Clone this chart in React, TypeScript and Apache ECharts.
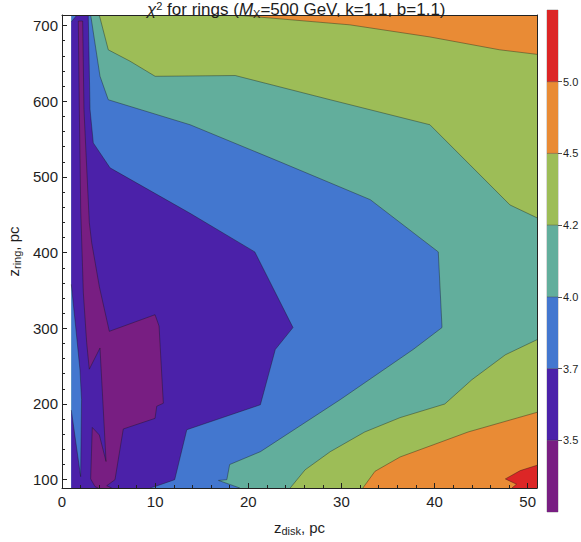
import React, { useEffect, useRef } from 'react';
import * as echarts from 'echarts';

const FONT = '"Liberation Sans", Arial, Helvetica, sans-serif';
const TEXT = '#1e1e1e';

// contour levels (colour bar tick labels) and the band colours, bottom to top
const levelLabels = ['3.5', '3.7', '4.0', '4.2', '4.5', '5.0'];
const bandColors = ['#781E82', '#4B21A9', '#4377CF', '#62AE9C', '#9DBD57', '#E98B35', '#DC2626'];

// data extent of the sampled grid
const dataX = [1, 51];
const dataY = [89, 714];

// region polygons [z_disk, z_ring]
const tealBase = [[1, 89], [51, 89], [51, 714], [1, 714]];
const greenTop = [[4.0, 714], [4.97, 668], [7.3, 653], [10.0, 633], [18.6, 634], [28.8, 602], [39.5, 569], [43.8, 516], [48.1, 463], [51, 446], [51, 714]];
const orangeTop = [[18.6, 714], [30.9, 701], [39.5, 685], [47.0, 668], [51, 662], [51, 714]];
const greenBottom = [[24.5, 89], [26.1, 113], [28.8, 137], [32.5, 163], [36.3, 182], [41.1, 200], [44.0, 232], [47.6, 265], [51, 285], [51, 89]];
const orangeBottom = [[32.3, 89], [33.6, 111], [36.3, 130], [39.85, 146], [43.6, 163], [51, 189], [51, 89]];
const redCorner = [[51, 119], [49.2, 112], [47.6, 101], [48.8, 94], [48.3, 89], [51, 89]];
const blueRegion = [[3.08, 714], [4.08, 633], [4.97, 602], [13.75, 569], [23.4, 520], [33.1, 470], [40.4, 401], [40.8, 301], [37.7, 272], [29.9, 206], [21.3, 137], [18.0, 120], [17.7, 100], [16.8, 99], [19.1, 89], [1, 89], [1, 714]];
const indigoRegion = [[1.61, 714], [2.82, 714], [3.01, 589], [3.36, 545], [5.16, 512], [13.75, 452], [20.7, 401], [24.8, 301], [22.9, 272], [21.3, 199], [13.4, 166], [12.1, 100], [10.0, 91], [9.45, 89], [1, 89], [1, 192], [2.0, 104], [2.1, 206], [1.93, 245], [1.5, 298], [1, 358], [1, 705]];
const purpleRegion = [[1.75, 706], [2.22, 706], [2.36, 589], [2.93, 440], [3.19, 413], [4.01, 355], [5.08, 296], [9.99, 318], [10.42, 303], [10.88, 201], [10.17, 197], [9.99, 181], [6.58, 167], [5.69, 100], [4.8, 92], [5.34, 89], [3.87, 89], [3.54, 91], [3.08, 101], [3.25, 169], [4.01, 159], [4.73, 124], [4.08, 274], [2.93, 246], [2.65, 281], [2.29, 347], [2.01, 457], [1.86, 589]];

const onSameEdge = (p: number[], q: number[]) =>
  (p[0] <= dataX[0] && q[0] <= dataX[0]) ||
  (p[0] >= dataX[1] && q[0] >= dataX[1]) ||
  (p[1] <= dataY[0] && q[1] <= dataY[0]) ||
  (p[1] >= dataY[1] && q[1] >= dataY[1]);

function regionSeries(name: string, pts: number[][], color: string, withLines = true) {
  return {
    type: 'custom',
    name,
    xAxisIndex: 0,
    yAxisIndex: 0,
    clip: true,
    silent: true,
    z: 1,
    data: [0],
    renderItem: (_params: any, api: any) => {
      const coords = pts.map((p) => api.coord(p));
      const children: any[] = [
        { type: 'polygon', shape: { points: coords }, style: { fill: color } },
      ];
      if (withLines) {
        const runs: number[][][] = [];
        let cur: number[][] = [];
        for (let i = 0; i < pts.length; i++) {
          const j = (i + 1) % pts.length;
          if (onSameEdge(pts[i], pts[j])) {
            if (cur.length > 1) runs.push(cur);
            cur = [];
          } else {
            if (cur.length === 0) cur.push(coords[i]);
            cur.push(coords[j]);
          }
        }
        if (cur.length > 1) runs.push(cur);
        runs.forEach((r) =>
          children.push({
            type: 'polyline',
            shape: { points: r },
            style: { fill: null, stroke: 'rgba(20,20,20,0.55)', lineWidth: 0.7 },
          })
        );
      }
      return { type: 'group', children };
    },
  };
}

const barSeries = bandColors.map((c, i) => ({
  type: 'bar',
  name: 'band' + i,
  xAxisIndex: 1,
  yAxisIndex: 1,
  stack: 'cb',
  barWidth: '100%',
  silent: true,
  data: [1],
  itemStyle: { color: c },
}));

const separatorSeries = {
  type: 'custom',
  name: 'sep',
  xAxisIndex: 1,
  yAxisIndex: 1,
  silent: true,
  z: 3,
  data: levelLabels.map((_, i) => [0, i + 1]),
  renderItem: (params: any, api: any) => {
    const cs = params.coordSys;
    const y = api.coord([0, api.value(1)])[1];
    return {
      type: 'line',
      shape: { x1: cs.x, y1: y, x2: cs.x + cs.width, y2: y },
      style: { stroke: 'rgba(30,30,30,0.45)', lineWidth: 0.8 },
    };
  },
};

const richAxis = {
  n: { fontSize: 15, fontFamily: FONT, color: TEXT, lineHeight: 18 },
  sub: { fontSize: 11, fontFamily: FONT, color: TEXT, lineHeight: 11, verticalAlign: 'bottom' },
};

const tickStyle = { color: '#222', width: 1 };

const option: any = {
  animation: false,
  backgroundColor: '#ffffff',
  title: {
    text: '{it|χ}{sup|2}{n| for rings (}{it|M}{sub|X}{n|=500 GeV, k=1.1, b=1.1)}',
    left: 147,
    top: 0,
    padding: 0,
    textStyle: {
      fontSize: 17,
      fontWeight: 'normal',
      fontFamily: FONT,
      color: TEXT,
      rich: {
        n: { fontSize: 17, fontFamily: FONT, color: TEXT, lineHeight: 19 },
        it: { fontSize: 17, fontFamily: FONT, color: TEXT, fontStyle: 'italic', lineHeight: 19 },
        sup: { fontSize: 11, fontFamily: FONT, color: TEXT, lineHeight: 11, verticalAlign: 'top' },
        sub: { fontSize: 11, fontFamily: FONT, color: TEXT, lineHeight: 11, verticalAlign: 'bottom' },
      },
    },
  },
  grid: [
    { left: 62, right: 44, top: 15, bottom: 54, containLabel: false, outerBoundsMode: 'none' },
    { left: 547, top: 10, width: 11, height: 502, show: true, borderColor: '#b4b4b4', borderWidth: 1, containLabel: false, outerBoundsMode: 'none' },
  ],
  xAxis: [
    {
      type: 'value',
      gridIndex: 0,
      min: 0,
      max: 51,
      interval: 10,
      z: 5,
      name: '{n|z}{sub|disk}{n|, pc}',
      nameLocation: 'middle',
      nameGap: 30,
      nameTextStyle: { rich: richAxis },
      axisLine: { show: true, onZero: false, lineStyle: tickStyle },
      axisTick: { show: true, inside: true, length: 5, lineStyle: tickStyle },
      minorTick: { show: true, splitNumber: 5, length: 3, lineStyle: tickStyle },
      splitLine: { show: false },
      minorSplitLine: { show: false },
      axisLabel: { fontSize: 15, color: TEXT, fontFamily: FONT, margin: 6, showMaxLabel: false },
    },
    { type: 'category', gridIndex: 1, data: [''], show: false },
    {
      type: 'value',
      gridIndex: 0,
      position: 'top',
      min: 0,
      max: 51,
      z: 5,
      axisLine: { show: true, onZero: false, lineStyle: tickStyle },
      axisTick: { show: false },
      axisLabel: { show: false },
      splitLine: { show: false },
    },
  ],
  yAxis: [
    {
      type: 'value',
      gridIndex: 0,
      min: 89,
      max: 714,
      splitNumber: 6,
      z: 5,
      name: '{n|z}{sub|ring}{n|, pc}',
      nameLocation: 'middle',
      nameGap: 31,
      nameTextStyle: { rich: richAxis },
      axisLine: { show: true, onZero: false, lineStyle: tickStyle },
      axisTick: { show: true, inside: true, length: 5, lineStyle: tickStyle },
      minorTick: { show: true, splitNumber: 5, length: 3, lineStyle: tickStyle },
      splitLine: { show: false },
      minorSplitLine: { show: false },
      axisLabel: { fontSize: 15, color: TEXT, fontFamily: FONT, margin: 4, showMinLabel: false, showMaxLabel: false },
    },
    {
      type: 'value',
      gridIndex: 1,
      min: 0,
      max: 7,
      interval: 1,
      position: 'right',
      axisLine: { show: false },
      splitLine: { show: false },
      axisTick: { show: true, length: 4, customValues: [1, 2, 3, 4, 5, 6], lineStyle: { color: '#555', width: 1 } },
      axisLabel: {
        customValues: [1, 2, 3, 4, 5, 6],
        formatter: (v: number) => levelLabels[Math.round(v) - 1] ?? '',
        fontSize: 11,
        color: TEXT,
        fontFamily: FONT,
        margin: 5,
      },
    },
    {
      type: 'value',
      gridIndex: 0,
      position: 'right',
      min: 89,
      max: 714,
      z: 5,
      axisLine: { show: true, onZero: false, lineStyle: tickStyle },
      axisTick: { show: false },
      axisLabel: { show: false },
      splitLine: { show: false },
    },
  ],
  series: [
    regionSeries('teal', tealBase, bandColors[3], false),
    regionSeries('greenTop', greenTop, bandColors[4]),
    regionSeries('orangeTop', orangeTop, bandColors[5]),
    regionSeries('greenBottom', greenBottom, bandColors[4]),
    regionSeries('orangeBottom', orangeBottom, bandColors[5]),
    regionSeries('red', redCorner, bandColors[6]),
    regionSeries('blue', blueRegion, bandColors[2]),
    regionSeries('indigo', indigoRegion, bandColors[1]),
    regionSeries('purple', purpleRegion, bandColors[0]),
    ...barSeries,
    separatorSeries,
  ],
};

export default function App() {
  const ref = useRef<HTMLDivElement>(null);
  useEffect(() => {
    const chart = echarts.init(ref.current!, null, { renderer: 'svg' });
    chart.setOption(option);
    return () => chart.dispose();
  }, []);
  return (
    <div
      ref={ref}
      style={{ position: 'fixed', left: 0, top: 0, width: 581, height: 542, background: '#fff' }}
    />
  );
}
